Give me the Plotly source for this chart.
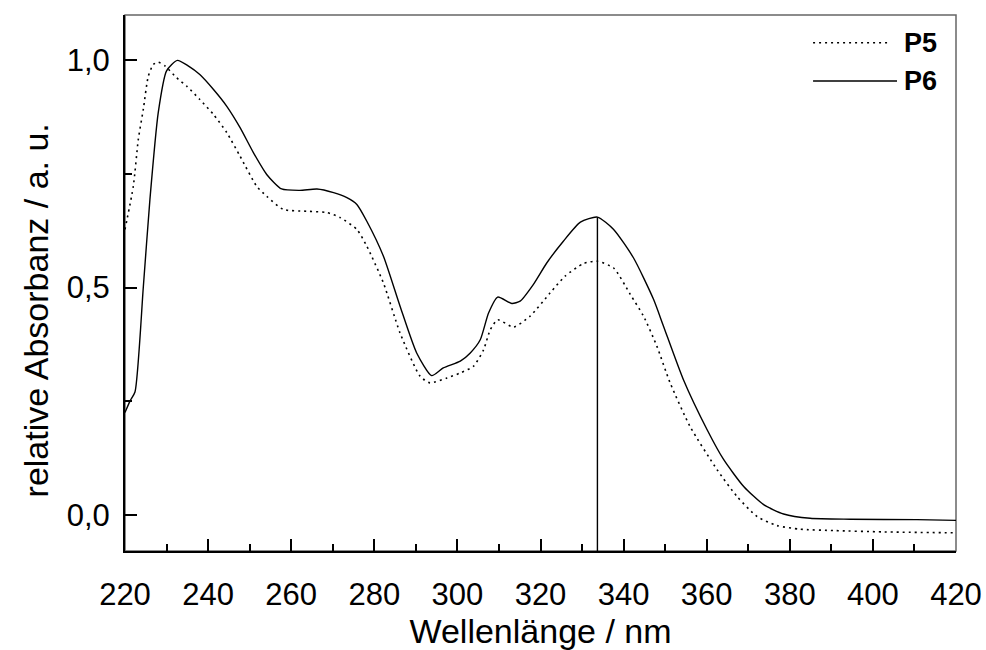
import plotly.graph_objects as go

# ---- data ----
p6_x = [220, 221.2, 222.4, 224.4, 226, 228, 230, 232.6, 235.2, 238, 241.3, 244.5, 247.7,
        250.9, 254.1, 257.7, 262.1, 266.2, 270.2, 273.4, 275.8, 278.2, 282.2, 286.2, 290.2,
        293.8, 296.6, 300.7, 303.1, 305.5, 307.5, 309.7, 313.1, 315.1, 318.3, 321.5, 325.5,
        329.6, 333.7, 337.6, 342.4, 347.2, 349.6, 354.4, 360.1, 364.1, 368.9, 373.7, 378.5,
        384.9, 394.6, 410.6, 420]
p6_y = [0.225, 0.25, 0.27, 0.5, 0.694, 0.885, 0.977, 1.0, 0.988, 0.969, 0.936, 0.899, 0.852,
        0.797, 0.749, 0.717, 0.714, 0.717, 0.709, 0.698, 0.683, 0.646, 0.569, 0.459, 0.356,
        0.306, 0.323, 0.338, 0.356, 0.385, 0.444, 0.479, 0.465, 0.470, 0.507, 0.554, 0.602,
        0.644, 0.655, 0.628, 0.565, 0.474, 0.415, 0.297, 0.187, 0.121, 0.062, 0.022, 0.0015,
        -0.008, -0.010, -0.011, -0.0125]

p5_x = [220, 222, 223.2, 224.4, 225.6, 226.8, 228, 229.6, 232.4, 234.9, 238, 241.3, 244.5,
        247.7, 251.7, 254.1, 258.1, 263.7, 268.6, 271.8, 275.8, 278.2, 282.2, 286.2, 291,
        293.4, 297.5, 300.7, 303.9, 306.3, 307.9, 309.7, 313.5, 317.5, 322.3, 325.9, 330.4,
        333.6, 337.6, 341.6, 344.8, 348, 351.2, 356, 362.5, 367.3, 372.1, 376.9, 382.5,
        390.6, 402.6, 420]
p5_y = [0.628, 0.723, 0.826, 0.892, 0.965, 0.991, 0.996, 0.988, 0.962, 0.943, 0.914, 0.881,
        0.841, 0.789, 0.723, 0.701, 0.672, 0.668, 0.665, 0.654, 0.628, 0.591, 0.510, 0.40,
        0.305, 0.290, 0.301, 0.312, 0.327, 0.363, 0.407, 0.429, 0.413, 0.437, 0.488, 0.525,
        0.553, 0.558, 0.543, 0.485, 0.437, 0.371, 0.290, 0.194, 0.099, 0.040, -0.004, -0.024,
        -0.032, -0.035, -0.038, -0.040]

x_ticks = [220, 240, 260, 280, 300, 320, 340, 360, 380, 400, 420]
y_ticks = [0.0, 0.5, 1.0]
y_ticktext = ["0,0", "0,5", "1,0"]
series_names = ["P5", "P6"]

x_range = [220, 420]
y_range = [-0.08, 1.10]

# peak of the long-wavelength band of P6 (marked with a vertical line)
band = [(x, y) for x, y in zip(p6_x, p6_y) if x > 300]
peak_x, peak_y = max(band, key=lambda t: t[1])

FONT = "Liberation Sans, Arial, sans-serif"

fig = go.Figure()
fig.add_trace(go.Scatter(x=p5_x, y=p5_y, mode="lines", name=series_names[0],
                         line=dict(color="black", width=1.6, dash="2px,4px",
                                   shape="spline", smoothing=0.6),
                         showlegend=False))
fig.add_trace(go.Scatter(x=p6_x, y=p6_y, mode="lines", name=series_names[1],
                         line=dict(color="black", width=1.4, shape="spline", smoothing=0.6),
                         showlegend=False))
fig.add_trace(go.Scatter(x=[peak_x, peak_x], y=[y_range[0], peak_y], mode="lines",
                         line=dict(color="black", width=1.4), showlegend=False,
                         hoverinfo="skip"))

# frame (top/right in grey)
fig.add_shape(type="rect", xref="x domain", yref="y domain", x0=0, x1=1, y0=0, y1=1,
              line=dict(color="#666666", width=1.5), layer="below")

# manual legend
leg = [(0.948, "2px,4px", 0.918, series_names[0]), (0.877, "solid", 0.929, series_names[1])]
for yy, dash, xend, name in leg:
    fig.add_shape(type="line", xref="x domain", yref="y domain", x0=0.828, x1=xend,
                  y0=yy, y1=yy, line=dict(color="black", width=1.5, dash=dash))
    fig.add_annotation(xref="x domain", yref="y domain", x=0.935, y=yy, text="<b>%s</b>" % name,
                       showarrow=False, xanchor="left", yanchor="middle",
                       font=dict(family=FONT, size=27, color="black"))

# y-axis title (placed slightly below the axis centre, as in the reference)
fig.add_annotation(xref="paper", yref="paper", x=-0.107, y=0.449,
                   text="relative Absorbanz / a. u.", textangle=-90, showarrow=False,
                   xanchor="center", yanchor="middle",
                   font=dict(family=FONT, size=34, color="black"))

fig.update_xaxes(range=x_range, tickvals=x_ticks, ticks="inside", ticklen=12, tickwidth=2,
                 tickcolor="black", showline=True, linecolor="black", linewidth=2,
                 showgrid=False, zeroline=False, automargin=False,
                 minor=dict(dtick=10, ticks="inside", ticklen=7, tickwidth=2, tickcolor="black"),
                 tickfont=dict(family=FONT, size=31, color="black"), ticklabelstandoff=15,
                 title=dict(text="Wellenlänge / nm", font=dict(family=FONT, size=34, color="black"),
                            standoff=6))
fig.update_yaxes(range=y_range, tickvals=y_ticks, ticktext=y_ticktext, ticks="inside",
                 ticklen=12, tickwidth=2, tickcolor="black", showline=True, linecolor="black",
                 linewidth=2, showgrid=False, zeroline=False, automargin=False,
                 minor=dict(dtick=0.25, ticks="inside", ticklen=7, tickwidth=2, tickcolor="black"),
                 tickfont=dict(family=FONT, size=31, color="black"), ticklabelstandoff=7)

fig.update_layout(width=986, height=650, plot_bgcolor="white", paper_bgcolor="white",
                  margin=dict(l=125, r=30, t=15, b=99), showlegend=False)

fig.write_html("out.html", config={"displayModeBar": False},
               post_script="document.body.style.margin='0';document.body.style.overflow='hidden';")
